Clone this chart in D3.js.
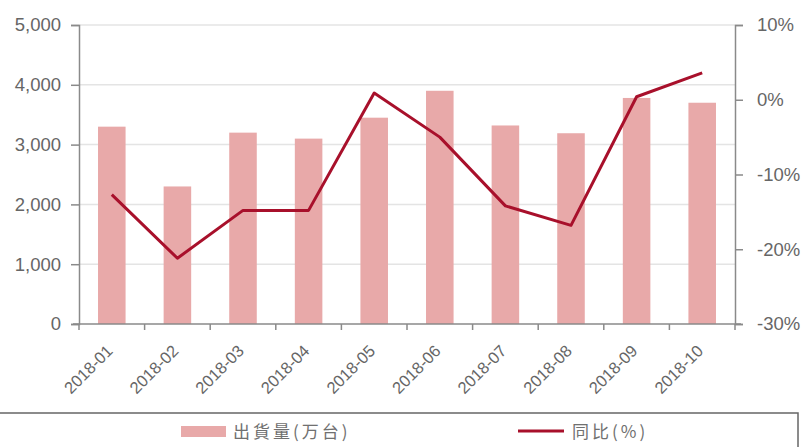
<!DOCTYPE html>
<html>
<head>
<meta charset="utf-8">
<script src="https://cdn.jsdelivr.net/npm/d3@7"></script>
<style>
  body { margin: 0; background: #fff; }
  svg { display: block; font-family: "Liberation Sans", Arial, sans-serif; }
  .tick text { fill: #666; }
</style>
</head>
<body>
<svg id="chart" width="802" height="447"></svg>
<script>
// data
var months = ['2018-01','2018-02','2018-03','2018-04','2018-05','2018-06','2018-07','2018-08','2018-09','2018-10'];
var shipments = [3300, 2300, 3200, 3100, 3450, 3900, 3320, 3190, 3780, 3700];
var yoy = [-12.7, -21.2, -14.8, -14.8, 0.9, -5.0, -14.2, -16.8, 0.4, 3.6];
var leftTicks = [0, 1000, 2000, 3000, 4000, 5000];
var rightTicks = [-30, -20, -10, 0, 10];

var svg = d3.select('#chart');
var x0 = 79, x1 = 735, yTop = 25, yBot = 324;

var x = d3.scaleBand().domain(months).range([x0, x1]).paddingInner(0.58).paddingOuter(0.29);
var yL = d3.scaleLinear().domain([0, 5000]).range([yBot, yTop]);
var yR = d3.scaleLinear().domain([-30, 10]).range([yBot, yTop]);

// gridlines
svg.append('g').selectAll('line').data(leftTicks.slice(1)).join('line')
  .attr('x1', x0).attr('x2', x1)
  .attr('y1', function(d) { return yL(d); }).attr('y2', function(d) { return yL(d); })
  .attr('stroke', '#e4e4e4').attr('stroke-width', 1.5);

// bars
svg.append('g').selectAll('rect').data(shipments).join('rect')
  .attr('x', function(d, i) { return x(months[i]); })
  .attr('width', x.bandwidth())
  .attr('y', function(d) { return yL(d); })
  .attr('height', function(d) { return yBot - yL(d); })
  .attr('fill', '#e8a9a9');

// yoy line
var line = d3.line()
  .x(function(d, i) { return x(months[i]) + x.bandwidth() / 2; })
  .y(function(d) { return yR(d); });
svg.append('path').datum(yoy)
  .attr('d', line)
  .attr('fill', 'none')
  .attr('stroke', '#a8102b')
  .attr('stroke-width', 3)
  .attr('stroke-linejoin', 'round');

// axes
var axisL = d3.axisLeft(yL).tickValues(leftTicks).tickSize(8).tickPadding(10).tickFormat(d3.format(','));
var axisR = d3.axisRight(yR).tickValues(rightTicks).tickSize(8).tickPadding(14).tickFormat(function(d) { return d + '%'; });

var gL = svg.append('g').attr('transform', 'translate(' + x0 + ',0)').call(axisL);
var gR = svg.append('g').attr('transform', 'translate(' + x1 + ',0)').call(axisR);
[gL, gR].forEach(function(g) {
  g.selectAll('.domain').attr('stroke', '#8a8a8a').attr('stroke-width', 1.5);
  g.selectAll('.tick line').attr('stroke', '#8a8a8a').attr('stroke-width', 1.5);
  g.selectAll('.tick text').attr('font-size', 18.5);
});

// x axis: ticks at category boundaries
var bounds = d3.range(months.length + 1).map(function(i) { return x0 + i * x.step(); });
var gX = svg.append('g');
gX.append('line').attr('x1', x0 - 6).attr('x2', x1 + 6).attr('y1', yBot).attr('y2', yBot)
  .attr('stroke', '#8a8a8a').attr('stroke-width', 1.5);
gX.selectAll('line.t').data(bounds).join('line').attr('class', 't')
  .attr('x1', function(d) { return d; }).attr('x2', function(d) { return d; })
  .attr('y1', yBot).attr('y2', yBot + 6)
  .attr('stroke', '#8a8a8a').attr('stroke-width', 1.5);
gX.selectAll('text').data(months).join('text')
  .attr('transform', function(d) {
    return 'translate(' + (x(d) + x.bandwidth() / 2 + 2) + ',' + 352 + ') rotate(-45)';
  })
  .attr('text-anchor', 'end')
  .attr('font-size', 16.5)
  .attr('fill', '#666')
  .text(function(d) { return d; });

// legend box
svg.append('rect').attr('x', -2).attr('y', 413).attr('width', 800).attr('height', 60)
  .attr('fill', 'none').attr('stroke', '#666').attr('stroke-width', 1.5);

var leg = svg.append('g').attr('font-family', '"Noto Sans CJK SC", sans-serif')
  .attr('font-size', 17).attr('letter-spacing', 3).attr('fill', '#707070');
leg.append('rect').attr('x', 181).attr('y', 426).attr('width', 45).attr('height', 11).attr('fill', '#e8a9a9');
leg.append('text').attr('x', 233).attr('y', 438).text('出貨量(万台)');
leg.append('line').attr('x1', 518).attr('x2', 564).attr('y1', 431).attr('y2', 431)
  .attr('stroke', '#a8102b').attr('stroke-width', 3);
leg.append('text').attr('x', 572).attr('y', 438).text('同比(%)');
</script>
</body>
</html>
